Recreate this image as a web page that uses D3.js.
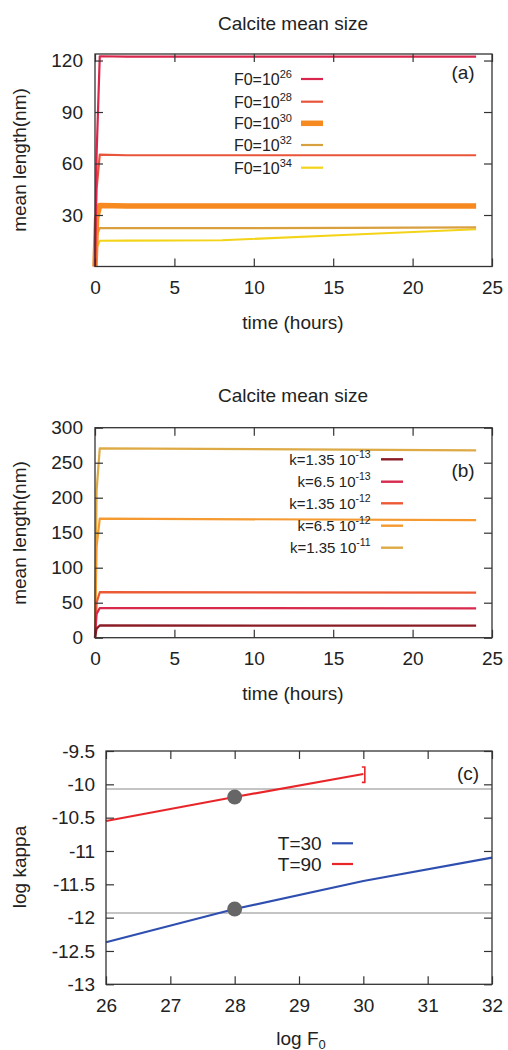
<!DOCTYPE html>
<html>
<head>
<meta charset="utf-8">
<script src="https://cdn.jsdelivr.net/npm/d3@7"></script>
<style>
  body { margin: 0; background: #fff; }
  text { font-family: "Liberation Sans", Arial, sans-serif; fill: #222; }
</style>
</head>
<body>
<svg id="chart"></svg>
<script>
// ---- panel (a) data: mean length vs time for several F0 ----
const timeA = [0, 0.1, 0.3, 2, 8, 16, 24];
const f0Labels = ["26", "28", "30", "32", "34"];
const f0_26 = [0, 65, 122.5, 122.3, 122.3, 122.3, 122.3];
const f0_28 = [0, 45, 65.2, 64.8, 64.8, 64.8, 64.8];
const f0_30 = [0, 28, 35.6, 35.2, 35.2, 35.2, 35.2];
const f0_32 = [0, 18, 22.4, 22.3, 22.3, 22.5, 22.8];
const f0_34 = [0, 11, 15.0, 15.1, 15.3, 18.5, 21.7];
const yTicksA = [30, 60, 90, 120];

// ---- panel (b) data: mean length vs time for several k ----
const timeB = [0, 0.1, 0.3, 24];
const kLabels = [["k=1.35 10", "-13"], ["k=6.5 10", "-13"], ["k=1.35 10", "-12"], ["k=6.5 10", "-12"], ["k=1.35 10", "-11"]];
const k1 = [0, 13, 17.5, 17.2];
const k2 = [0, 34, 42.3, 42];
const k3 = [0, 50, 65, 64.5];
const k4 = [0, 130, 170, 168];
const k5 = [0, 210, 270.5, 267.7];
const yTicksB = [0, 50, 100, 150, 200, 250, 300];

// ---- panel (c) data: log kappa vs log F0 ----
const logF30 = [26, 28, 30, 32];
const kappa30 = [-12.37, -11.87, -11.45, -11.1];
const logF90 = [26, 28, 30];
const kappa90 = [-10.55, -10.19, -9.845];
const refLines = [-10.07, -11.93];
const dots = [[28, -10.19], [28, -11.87]];
const errBar = [30, -9.74, -9.97];
const yTicksC = [-9.5, -10, -10.5, -11, -11.5, -12, -12.5, -13];
const xTicksC = [26, 27, 28, 29, 30, 31, 32];
const xTicksAB = [0, 5, 10, 15, 20, 25];

const svg = d3.select("#chart").attr("width", 508).attr("height", 1050);

function frame(g, x, y, xTicks, yTicks, yLabelGap) {
    let w = x.range()[1] - x.range()[0];
    let h = y.range()[0] - y.range()[1];
    let fmt = d => String(d);
    let bottom = g.append("g").attr("transform", "translate(0," + h + ")")
        .call(d3.axisBottom(x).tickValues(xTicks).tickSizeInner(-8).tickSizeOuter(0).tickPadding(14).tickFormat(fmt));
    let top = g.append("g")
        .call(d3.axisTop(x).tickValues(xTicks).tickSizeInner(-8).tickSizeOuter(0).tickFormat(""));
    let left = g.append("g")
        .call(d3.axisLeft(y).tickValues(yTicks).tickSizeInner(-8).tickSizeOuter(0).tickPadding(yLabelGap).tickFormat(fmt));
    let right = g.append("g").attr("transform", "translate(" + w + ",0)")
        .call(d3.axisRight(y).tickValues(yTicks).tickSizeInner(-8).tickSizeOuter(0).tickFormat(""));
    [bottom, top, left, right].forEach(a => {
        a.select(".domain").remove();
        a.selectAll("line").attr("stroke", "#333").attr("stroke-width", 1.2);
        a.selectAll("text").attr("font-size", "19px").attr("fill", "#222")
            .attr("font-family", "'Liberation Sans', Arial, sans-serif");
    });
    g.append("rect").attr("width", w).attr("height", h)
        .attr("fill", "none").attr("stroke", "#333").attr("stroke-width", 1.3);
}

function drawLine(g, x, y, xs, ys, color, width) {
    g.append("path")
        .datum(xs.map((d, i) => [d, ys[i]]))
        .attr("fill", "none")
        .attr("stroke", color)
        .attr("stroke-width", width)
        .attr("stroke-linejoin", "round")
        .attr("d", d3.line().x(d => x(d[0])).y(d => y(d[1])));
}

// ================= panel (a) =================
{
    let g = svg.append("g").attr("transform", "translate(95,54)");
    let x = d3.scaleLinear().domain([0, 25]).range([0, 397]);
    let y = d3.scaleLinear().domain([0, 123.8]).range([212.5, 0]);

    svg.append("text").attr("x", 293).attr("y", 30).attr("text-anchor", "middle")
        .attr("font-size", "19px").text("Calcite mean size");

    let series = [f0_26, f0_28, f0_30, f0_32, f0_34];
    let colors = ["#d8264c", "#e9553a", "#f6891f", "#d9a040", "#f3d419"];
    let widths = [2.2, 2.2, 5.5, 2.2, 2.2];
    // draw from lowest up so the steep red rise sits on top
    for (let i = series.length - 1; i >= 0; i--) {
        drawLine(g, x, y, timeA, series[i], colors[i], widths[i]);
    }
    frame(g, x, y, xTicksAB, yTicksA, 12);

    let leg = svg.append("g");
    let rowsY = [79, 101.7, 123.3, 145, 167.7];
    f0Labels.forEach((lab, i) => {
        let t = leg.append("text").attr("x", 292).attr("y", rowsY[i] + 6)
            .attr("text-anchor", "end").attr("font-size", "16px");
        t.append("tspan").text("F0=10");
        t.append("tspan").attr("dy", -7).attr("font-size", "11px").text(lab);
        leg.append("line").attr("x1", 301).attr("x2", 323).attr("y1", rowsY[i]).attr("y2", rowsY[i])
            .attr("stroke", colors[i]).attr("stroke-width", widths[i]);
    });
    svg.append("text").attr("x", 463).attr("y", 79).attr("text-anchor", "middle")
        .attr("font-size", "19px").text("(a)");

    svg.append("text").attr("transform", "translate(26,160) rotate(-90)")
        .attr("text-anchor", "middle").attr("font-size", "19px").text("mean length(nm)");
    svg.append("text").attr("x", 293).attr("y", 329).attr("text-anchor", "middle")
        .attr("font-size", "19px").text("time (hours)");
}

// ================= panel (b) =================
{
    let g = svg.append("g").attr("transform", "translate(95,427.7)");
    let x = d3.scaleLinear().domain([0, 25]).range([0, 397]);
    let y = d3.scaleLinear().domain([0, 300]).range([210, 0]);

    svg.append("text").attr("x", 293).attr("y", 402).attr("text-anchor", "middle")
        .attr("font-size", "19px").text("Calcite mean size");

    let series = [k1, k2, k3, k4, k5];
    let colors = ["#8b1c26", "#d82a4c", "#ec5a35", "#f49a30", "#ddaa45"];
    for (let i = series.length - 1; i >= 0; i--) {
        drawLine(g, x, y, timeB, series[i], colors[i], 2.2);
    }
    frame(g, x, y, xTicksAB, yTicksB, 12);

    let leg = svg.append("g");
    let rowsY = [459.3, 481.7, 503.3, 525.7, 547.7];
    kLabels.forEach((lab, i) => {
        let t = leg.append("text").attr("x", 370.7).attr("y", rowsY[i] + 5.5)
            .attr("text-anchor", "end").attr("font-size", "15px");
        t.append("tspan").text(lab[0]);
        t.append("tspan").attr("dy", -7).attr("font-size", "10.5px").text(lab[1]);
        leg.append("line").attr("x1", 381).attr("x2", 403).attr("y1", rowsY[i]).attr("y2", rowsY[i])
            .attr("stroke", colors[i]).attr("stroke-width", 2.4);
    });
    svg.append("text").attr("x", 463).attr("y", 477).attr("text-anchor", "middle")
        .attr("font-size", "19px").text("(b)");

    svg.append("text").attr("transform", "translate(26,533) rotate(-90)")
        .attr("text-anchor", "middle").attr("font-size", "19px").text("mean length(nm)");
    svg.append("text").attr("x", 293).attr("y", 700).attr("text-anchor", "middle")
        .attr("font-size", "19px").text("time (hours)");
}

// ================= panel (c) =================
{
    let g = svg.append("g").attr("transform", "translate(106,751)");
    let x = d3.scaleLinear().domain([26, 32]).range([0, 386]);
    let y = d3.scaleLinear().domain([-13, -9.5]).range([233.3, 0]);

    refLines.forEach(v => {
        g.append("line").attr("x1", 0).attr("x2", 386).attr("y1", y(v)).attr("y2", y(v))
            .attr("stroke", "#8a8a8a").attr("stroke-width", 1.1);
    });

    drawLine(g, x, y, logF30, kappa30, "#2f4fb0", 2.2);
    drawLine(g, x, y, logF90, kappa90, "#e8262a", 2.2);

    // error bar at the end of the T=90 curve
    let ex = x(errBar[0]) + 1.5;
    g.append("path")
        .attr("d", "M" + (ex - 3) + "," + y(errBar[1]) + "H" + ex + "V" + y(errBar[2]) + "H" + (ex - 3))
        .attr("fill", "none").attr("stroke", "#e8262a").attr("stroke-width", 1.6);

    g.selectAll("circle.dot").data(dots).enter().append("circle")
        .attr("class", "dot")
        .attr("cx", d => x(d[0])).attr("cy", d => y(d[1])).attr("r", 7.5)
        .attr("fill", "#666");

    frame(g, x, y, xTicksC, yTicksC, 11);

    let legColors = ["#2f4fb0", "#e8262a"];
    let legText = ["T=30", "T=90"];
    let rowsY = [843.3, 864];
    legText.forEach((lab, i) => {
        svg.append("text").attr("x", 321.7).attr("y", rowsY[i] + 7)
            .attr("text-anchor", "end").attr("font-size", "19px").text(lab);
        svg.append("line").attr("x1", 332).attr("x2", 353).attr("y1", rowsY[i]).attr("y2", rowsY[i])
            .attr("stroke", legColors[i]).attr("stroke-width", 2.2);
    });
    svg.append("text").attr("x", 468).attr("y", 780).attr("text-anchor", "middle")
        .attr("font-size", "19px").text("(c)");

    svg.append("text").attr("transform", "translate(26,867) rotate(-90)")
        .attr("text-anchor", "middle").attr("font-size", "19px").text("log kappa");
    let xl = svg.append("text").attr("x", 301).attr("y", 1045).attr("text-anchor", "middle")
        .attr("font-size", "19px");
    xl.append("tspan").text("log F");
    xl.append("tspan").attr("dy", 3.5).attr("font-size", "13px").text("0");
}
</script>
</body>
</html>
